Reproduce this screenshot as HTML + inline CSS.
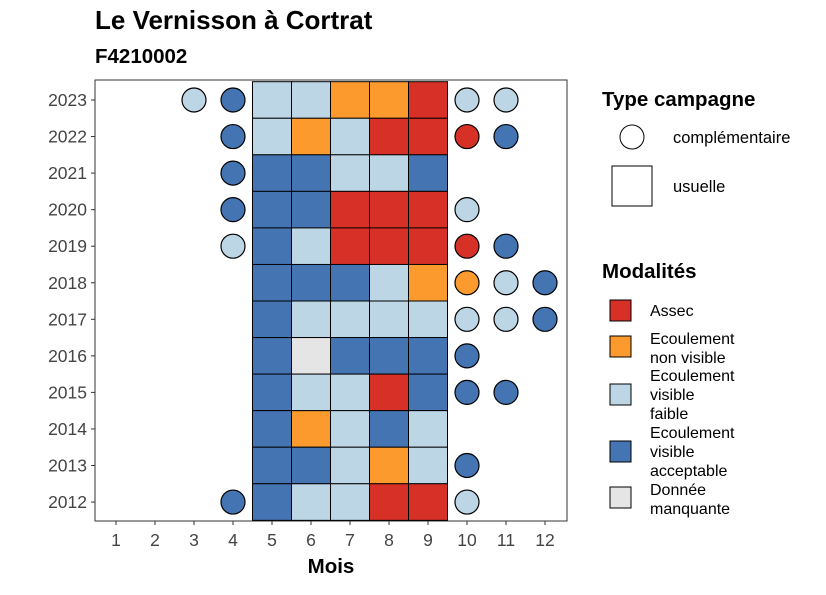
<!DOCTYPE html>
<html><head><meta charset="utf-8"><style>
body{margin:0;background:#fff;font-family:"Liberation Sans",Arial,sans-serif}
svg text{font-family:"Liberation Sans",Arial,sans-serif}
</style></head><body>
<svg id="c" width="826" height="590" xmlns="http://www.w3.org/2000/svg">
<text x="95" y="29" font-size="26" font-weight="bold" fill="#000">Le Vernisson à Cortrat</text>
<text x="95" y="63" font-size="20.5" font-weight="bold" fill="#000">F4210002</text>
<rect x="95" y="80" width="472" height="441" fill="none" stroke="#333" stroke-width="1"/>
<g id="marks"></g>
<g id="axes"></g>
<text x="331" y="573" font-size="20.5" font-weight="bold" text-anchor="middle">Mois</text>
<g>
<text x="602" y="106" font-size="20.5" font-weight="bold">Type campagne</text>
<circle cx="632" cy="137" r="12" fill="#fff" stroke="#000"/>
<text x="673" y="143" font-size="16.5">complémentaire</text>
<rect x="612" y="166" width="40" height="40" fill="#fff" stroke="#000"/>
<text x="673" y="192" font-size="16.5">usuelle</text>
</g>
<g>
<text x="602" y="278" font-size="20.5" font-weight="bold">Modalités</text>
<rect x="610" y="300" width="21" height="21" fill="#D73027" stroke="#000"/>
<text x="650" y="316" font-size="16">Assec</text>
<rect x="610" y="336" width="21" height="21" fill="#FC9A2D" stroke="#000"/>
<text x="650" y="344" font-size="16">Ecoulement</text><text x="650" y="363" font-size="16">non visible</text>
<rect x="610" y="384" width="21" height="21" fill="#BDD6E6" stroke="#000"/>
<text x="650" y="381" font-size="16">Ecoulement</text><text x="650" y="400" font-size="16">visible</text><text x="650" y="419" font-size="16">faible</text>
<rect x="610" y="441" width="21" height="21" fill="#4574B3" stroke="#000"/>
<text x="650" y="438" font-size="16">Ecoulement</text><text x="650" y="457" font-size="16">visible</text><text x="650" y="476" font-size="16">acceptable</text>
<rect x="610" y="487" width="21" height="21" fill="#E5E5E5" stroke="#000"/>
<text x="650" y="495" font-size="16">Donnée</text><text x="650" y="514" font-size="16">manquante</text>
</g>
</svg>
<script>
const years=[2023,2022,2021,2020,2019,2018,2017,2016,2015,2014,2013,2012];
const months=[1,2,3,4,5,6,7,8,9,10,11,12];
// usual campaign, months 5..9
const usual=["LLOOA","LOLAA","BBLLB","BBAAA","BLAAA","BBBLO","BLLLL","BGBBB","BLLAB","BOLBL","BBLOL","BLLAA"];
// complementary: month:code
const compl=[{3:"L",4:"B",10:"L",11:"L"},{4:"B",10:"A",11:"B"},{4:"B"},{4:"B",10:"L"},{4:"L",10:"A",11:"B"},{10:"O",11:"L",12:"B"},{10:"L",11:"L",12:"B"},{10:"B"},{10:"B",11:"B"},{},{10:"B"},{4:"B",10:"L"}];
const col={A:"#D73027",O:"#FC9A2D",L:"#BDD6E6",B:"#4574B3",G:"#E5E5E5"};
const X=m=>116+(m-1)*39, Y=y=>100+(2023-y)*36.55;
const NS="http://www.w3.org/2000/svg";
const g=document.getElementById('marks'), ax=document.getElementById('axes');
function mk(t,a,p){const e=document.createElementNS(NS,t);for(const k in a)e.setAttribute(k,a[k]);p.appendChild(e);return e;}
years.forEach((yr,i)=>{
  for(let j=0;j<5;j++){
    const m=5+j;
    const r=mk('rect',{x:X(m)-19.5,y:Y(yr)-18.3,width:39,height:36.6,fill:col[usual[i][j]],stroke:'#000','stroke-width':1},g);
    
    
  }
  for(const m in compl[i]){
    const c=mk('circle',{cx:X(+m),cy:Y(yr),r:12,fill:col[compl[i][m]],stroke:'#000','stroke-width':1.2},g);
    
    
  }
  mk('line',{x1:91,x2:95,y1:Y(yr),y2:Y(yr),stroke:'#333'},ax);
  const t=mk('text',{x:87,y:Y(yr)+6,'font-size':17.5,'text-anchor':'end',fill:'#444'},ax);
  t.textContent=yr;
  
  
});
months.forEach(m=>{
  mk('line',{x1:X(m),x2:X(m),y1:521,y2:525,stroke:'#333'},ax);
  const t=mk('text',{x:X(m),y:546,'font-size':17.5,'text-anchor':'middle',fill:'#444'},ax);
  t.textContent=m;
  
  
});
</script>
</body></html>
